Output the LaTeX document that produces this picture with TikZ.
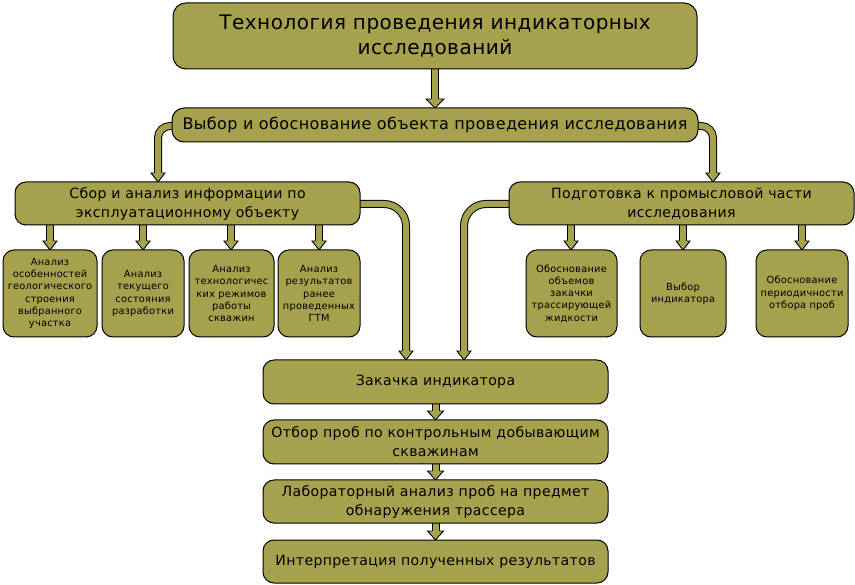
\documentclass[tikz,border=0pt]{standalone}
\usepackage{fontspec}
\setmainfont{DejaVu Sans}[LetterSpace=2.5]
\usetikzlibrary{calc}
\definecolor{boxcol}{RGB}{165,161,76}
\newcommand{\ahead}[2]{%
  \fill[boxcol] ($#1+(-#2,-9)$) -- #1 -- ($#1+(#2,-9)$) -- cycle;
  \draw[line width=0.9pt, line join=miter] ($#1+(-4,-9)$) -- ($#1+(-#2,-9)$) -- #1 -- ($#1+(#2,-9)$) -- ($#1+(4,-9)$);
}
\tikzset{
  box/.style={draw=black, fill=boxcol, rounded corners=11pt, line width=1pt, align=center, inner sep=0pt},
  bigtxt/.style={font=\fontsize{20}{25}\selectfont},
  midtxt/.style={font=\fontsize{14.1}{19}\selectfont},
  smalltxt/.style={font=\fontsize{9.8}{12.3}\selectfont},
  shaft/.style={double=boxcol, double distance=6pt, line width=1pt},
}
\begin{document}
\begin{tikzpicture}[x=1pt,y=-1pt]
\useasboundingbox (0,0) rectangle (855,585);
% coordinates for arrow tips
\coordinate (tipA) at (435,108);
\coordinate (tipL) at (158,182);
\coordinate (tipR) at (713,182);
\coordinate (tipK1) at (406,360);
\coordinate (tipK2) at (464,360);
\foreach \n/\x in {sa/50,sb/143,sc/231,sd/319,se/571,sf/683,sg/802}{\coordinate (tip\n) at (\x,250);}
\coordinate (tipB) at (435.5,420);
\coordinate (tipC) at (435.5,480);
\coordinate (tipD) at (435.5,540);

% arrows (drawn first)
\draw[shaft] (435,69) -- ($(tipA)+(0,-9)$); \ahead{(tipA)}{9}
\draw[shaft, rounded corners=12pt] (173,126) -| ($(tipL)+(0,-9)$); \ahead{(tipL)}{7}
\draw[shaft, rounded corners=12pt] (697,126) -| ($(tipR)+(0,-9)$); \ahead{(tipR)}{7}
\draw[shaft, rounded corners=22pt] (359,204) -| ($(tipK1)+(0,-9)$); \ahead{(tipK1)}{7}
\draw[shaft, rounded corners=22pt] (510,204) -| ($(tipK2)+(0,-9)$); \ahead{(tipK2)}{7}
\foreach \n/\x in {sa/50,sb/143,sc/231,sd/319,se/571,sf/683,sg/802}{
  \draw[shaft] (\x,224) -- ($(tip\n)+(0,-9)$); \ahead{(tip\n)}{7}
}
\draw[shaft] (435.5,403) -- ($(tipB)+(0,-9)$); \ahead{(tipB)}{8}
\draw[shaft] (435.5,463) -- ($(tipC)+(0,-9)$); \ahead{(tipC)}{8}
\draw[shaft] (435.5,522) -- ($(tipD)+(0,-9)$); \ahead{(tipD)}{8}

% boxes
\node[box, bigtxt, minimum width=524pt, minimum height=66pt, rounded corners=13pt] (title) at (435,36) {Технология проведения индикаторных\\исследований};
\node[box, font=\fontsize{16}{19}\selectfont, minimum width=526pt, minimum height=34pt, rounded corners=12pt] (b2) at (435,125) {Выбор и обоснование объекта проведения исследования};
\node[box, midtxt, minimum width=345pt, minimum height=43pt] (b3) at (187.5,203.5) {Сбор и анализ информации по\\эксплуатационному объекту};
\node[box, midtxt, minimum width=345pt, minimum height=43pt] (b4) at (681.5,203.5) {Подготовка к промысловой части\\исследования};

\node[box, smalltxt, minimum width=94pt, minimum height=87pt] (sa) at (50,293.5) {Анализ\\особенностей\\геологического\\строения\\выбранного\\участка};
\node[box, smalltxt, minimum width=82pt, minimum height=87pt] (sb) at (143,293.5) {Анализ\\текущего\\состояния\\разработки};
\node[box, smalltxt, minimum width=85pt, minimum height=87pt] (sc) at (231.5,293.5) {Анализ\\технологичес\\ких режимов\\работы\\скважин};
\node[box, smalltxt, minimum width=82pt, minimum height=87pt] (sd) at (319,293.5) {Анализ\\результатов\\ранее\\проведенных\\ГТМ};
\node[box, smalltxt, minimum width=91pt, minimum height=87pt] (se) at (571.5,293.5) {Обоснование\\объемов\\закачки\\трассирующей\\жидкости};
\node[box, smalltxt, minimum width=86pt, minimum height=87pt] (sf) at (683,293.5) {Выбор\\индикатора};
\node[box, smalltxt, minimum width=92pt, minimum height=87pt] (sg) at (802,293.5) {Обоснование\\периодичности\\отбора проб};

\node[box, midtxt, minimum width=345pt, minimum height=44pt] (k1) at (435.5,382) {Закачка индикатора};
\node[box, midtxt, minimum width=345pt, minimum height=44pt] (k2) at (435.5,442) {Отбор проб по контрольным добывающим\\скважинам};
\node[box, midtxt, minimum width=345pt, minimum height=43pt] (k3) at (435.5,501.5) {Лабораторный анализ проб на предмет\\обнаружения трассера};
\node[box, midtxt, minimum width=345pt, minimum height=43pt] (k4) at (435.5,561.5) {Интерпретация полученных результатов};
\end{tikzpicture}
\end{document}
